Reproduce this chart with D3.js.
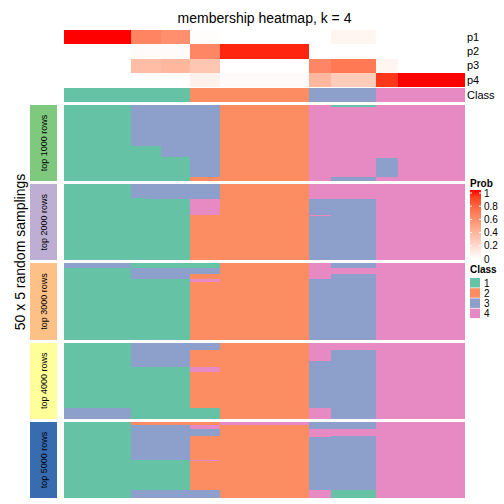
<!DOCTYPE html>
<html><head><meta charset="utf-8">
<script src="https://cdn.jsdelivr.net/npm/d3@7"></script>
<style>body{margin:0;background:#fff}svg{display:block}text{font-family:"Liberation Sans",Arial,Helvetica,sans-serif}</style>
</head><body><svg id="c" width="504" height="504"></svg>
<script>
// ---- data ----
const sampleGroups = ["A","B1","B2","C","D","E","F","G","H","I"];
const groupSizes   = [9,2,2,4,4,12,3,6,3,9];
const p1 = [1.00,0.63,0.63,0.58,0.01,0.00,0.00,0.05,0.00,0.00];
const p2 = [0.00,0.02,0.02,0.02,0.62,0.96,0.00,0.00,0.00,0.00];
const p3 = [0.00,0.35,0.35,0.38,0.30,0.00,0.62,0.68,0.05,0.00];
const p4 = [0.00,0.00,0.00,0.00,0.07,0.02,0.38,0.27,0.92,1.00];
const memberClass = [1,1,1,1,2,2,3,3,4,4];
const probRows = ["p1","p2","p3","p4"];
const classLevels = [1,2,3,4];
const classColors = ["#66C2A5","#FC8D62","#8DA0CB","#E78AC3"];
const sliceLabels = ["top 1000 rows","top 2000 rows","top 3000 rows","top 4000 rows","top 5000 rows"];
const sliceColors = ["#7FC97F","#BEAED4","#FDC086","#FFFF99","#386CB0"];
const probTicks = [0,0.2,0.4,0.6,0.8,1];
// runs per sample group: [class, number of samplings]
const slice1 = [[[1,50]],[[3,27],[1,23]],[[3,27],[1,23]],[[3,34],[1,16]],[[3,47],[2,3]],[[2,50]],[[4,50]],[[1,1],[4,46],[3,3]],[[4,35],[3,12],[4,3]],[[4,50]]];
const slice2 = [[[1,50]],[[3,9],[1,41]],[[3,10],[1,40]],[[3,10],[1,40]],[[3,10],[4,10],[2,30]],[[2,50]],[[4,10],[3,10],[4,1],[3,29]],[[4,10],[3,40]],[[4,50]],[[4,50]]];
const slice3 = [[[3,3],[1,47]],[[1,3],[3,7],[1,40]],[[1,3],[3,7],[1,40]],[[1,3],[3,7],[1,40]],[[1,3],[3,4],[2,3],[4,2],[2,38]],[[2,50]],[[4,10],[3,40]],[[3,3],[4,4],[3,43]],[[4,50]],[[4,50]]];
const slice4 = [[[1,43],[3,7]],[[3,16],[1,34]],[[3,16],[1,34]],[[3,16],[1,34]],[[3,5],[2,11],[4,3],[2,24],[1,7]],[[2,50]],[[4,12],[3,31],[4,7]],[[4,5],[3,45]],[[4,50]],[[4,50]]];
const slice5 = [[[1,50]],[[2,2],[3,23],[1,20],[3,5]],[[2,2],[3,23],[1,20],[3,5]],[[2,2],[3,23],[1,20],[3,5]],[[2,2],[4,3],[3,4],[2,16],[4,1],[2,19],[3,5]],[[4,2],[2,48]],[[3,5],[4,5],[3,35],[4,5]],[[3,5],[4,4],[3,36],[1,5]],[[4,50]],[[4,50]]];
const slices = [slice1,slice2,slice3,slice4,slice5];
const nSamplings = 50;

// ---- drawing ----
const svg = d3.select("#c");
const nSamples = d3.sum(groupSizes);
const starts = d3.cumsum([0].concat(groupSizes)).slice(0,-1);
const x = d3.scaleLinear().domain([0,nSamples]).range([64,465]);
const probColor = d3.scaleLinear().domain([0,1]).range(["#ffffff","#ff0000"]).interpolate(d3.interpolateLab);
const classColor = d3.scaleOrdinal().domain(classLevels).range(classColors);

svg.append("text").attr("x",264.5).attr("y",22.5).attr("text-anchor","middle").attr("font-size",14).text("membership heatmap, k = 4");

// top annotation
const yTop = d3.scaleBand().domain(probRows).range([30,87]);
const probData = [p1,p2,p3,p4];
const gTop = svg.append("g").attr("shape-rendering","crispEdges");
probRows.forEach((r,i)=>{
  gTop.selectAll(null).data(probData[i]).join("rect")
    .attr("x",(d,j)=>x(starts[j])).attr("width",(d,j)=>x(starts[j]+groupSizes[j])-x(starts[j]))
    .attr("y",yTop(r)).attr("height",yTop.bandwidth()).attr("fill",d=>probColor(d));
  svg.append("text").attr("x",467).attr("y",yTop(r)+yTop.bandwidth()/2).attr("dy","0.35em").attr("font-size",11).text(r);
});
gTop.selectAll(null).data(memberClass).join("rect")
  .attr("x",(d,j)=>x(starts[j])).attr("width",(d,j)=>x(starts[j]+groupSizes[j])-x(starts[j]))
  .attr("y",88).attr("height",14).attr("fill",d=>classColor(d));
svg.append("text").attr("x",467).attr("y",95).attr("dy","0.35em").attr("font-size",11).text("Class");

// slices
const y0 = 105, y1 = 498, gap = 3;
const sh = (y1-y0-gap*(slices.length-1))/slices.length;
const gBody = svg.append("g").attr("shape-rendering","crispEdges");
slices.forEach((sl,si)=>{
  const top = y0 + si*(sh+gap);
  const y = d3.scaleLinear().domain([0,nSamplings]).range([top,top+sh]);
  sl.forEach((runs,gi)=>{
    let acc = 0;
    runs.forEach(([c,n])=>{
      gBody.append("rect").attr("x",x(starts[gi])).attr("width",x(starts[gi]+groupSizes[gi])-x(starts[gi]))
        .attr("y",y(acc)).attr("height",y(acc+n)-y(acc)).attr("fill",classColor(c));
      acc += n;
    });
  });
  gBody.append("rect").attr("x",30).attr("width",27).attr("y",top).attr("height",sh).attr("fill",sliceColors[si]);
  svg.append("text").attr("transform",`translate(${43.5},${top+sh/2}) rotate(-90)`).attr("text-anchor","middle").attr("dy","0.35em").attr("font-size",9)
    .attr("fill","#000").text(sliceLabels[si]);
});
svg.append("text").attr("transform","translate(20,252) rotate(-90)").attr("text-anchor","middle").attr("dy","0.35em").attr("font-size",14).text("50 x 5 random samplings");

// Prob legend
svg.append("text").attr("x",470).attr("y",187).attr("font-size",10).attr("font-weight","bold").text("Prob");
const grad = svg.append("defs").append("linearGradient").attr("id","pg").attr("x1",0).attr("x2",0).attr("y1",1).attr("y2",0);
d3.range(0,1.0001,0.1).forEach(t=>grad.append("stop").attr("offset",t).attr("stop-color",probColor(t)));
const ly = d3.scaleLinear().domain([0,1]).range([259,193]);
svg.append("rect").attr("x",470).attr("y",190).attr("width",11).attr("height",69).attr("fill","url(#pg)");
probTicks.forEach(t=>{
  svg.append("line").attr("x1",470).attr("x2",472).attr("y1",ly(t)).attr("y2",ly(t)).attr("stroke","#fff").attr("stroke-width",1);
  svg.append("line").attr("x1",479).attr("x2",481).attr("y1",ly(t)).attr("y2",ly(t)).attr("stroke","#fff").attr("stroke-width",1);
  svg.append("text").attr("x",484).attr("y",ly(t)).attr("dy","0.35em").attr("font-size",10).text(t);
});
// Class legend
svg.append("text").attr("x",470).attr("y",273).attr("font-size",10).attr("font-weight","bold").text("Class");
classLevels.forEach((c,i)=>{
  svg.append("rect").attr("x",470).attr("y",278+i*10.2).attr("width",10).attr("height",9.5).attr("fill",classColor(c));
  svg.append("text").attr("x",484).attr("y",278+i*10.2+5).attr("dy","0.35em").attr("font-size",10).text(c);
});
</script></body></html>
